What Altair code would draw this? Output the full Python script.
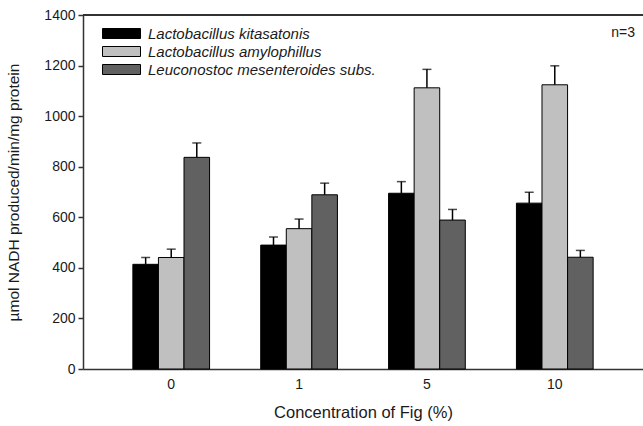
import altair as alt
import pandas as pd

concentrations = ["0", "1", "5", "10"]
species = ["Lactobacillus kitasatonis", "Lactobacillus amylophillus", "Leuconostoc mesenteroides subs."]
kitasatonis = [414, 490, 695, 656]
amylophillus = [441, 555, 1112, 1124]
leuconostoc = [837, 689, 589, 442]
err_kitasatonis = [27, 32, 46, 43]
err_amylophillus = [33, 38, 73, 75]
err_leuconostoc = [57, 46, 42, 27]
colors = ["#000000", "#c0c0c0", "#616161"]

rows = []
for sp, vals, errs in [(species[0], kitasatonis, err_kitasatonis),
                       (species[1], amylophillus, err_amylophillus),
                       (species[2], leuconostoc, err_leuconostoc)]:
    for c, v, e in zip(concentrations, vals, errs):
        rows.append({"conc": c, "species": sp, "value": v, "upper": v + e})
df = pd.DataFrame(rows)

FONT = "Liberation Sans"
TXT = "#1a1a1a"

x_scale = alt.Scale(paddingInner=0.4, paddingOuter=0.39)
x_enc = alt.X("conc:N", sort=concentrations, scale=x_scale,
              axis=alt.Axis(title="Concentration of Fig (%)", labelAngle=0, ticks=False,
                            labelPadding=8, titlePadding=13, labelFontSize=14,
                            titleFontSize=16.5, domainColor="#333333", domainWidth=1.5))
xoff = alt.XOffset("species:N", sort=species, scale=alt.Scale(paddingInner=0, paddingOuter=0))
y_scale = alt.Scale(domain=[0, 1400], nice=False)

bars = alt.Chart(df).mark_bar(stroke="#000000", strokeWidth=1).encode(
    x=x_enc,
    xOffset=xoff,
    y=alt.Y("value:Q", scale=y_scale,
            axis=alt.Axis(title="µmol NADH produced/min/mg protein", values=list(range(0, 1401, 200)),
                          format="d", grid=False, tickSize=5, tickColor="#333333", tickWidth=1.5,
                          domainColor="#333333", domainWidth=1.5, labelFontSize=14,
                          labelPadding=3, titleFontSize=15.5, titleX=-70, titleY=177,
                          titleAngle=-90, titleBaseline="middle", titleAlign="center")),
    color=alt.Color("species:N", sort=species,
                    scale=alt.Scale(domain=species, range=colors),
                    legend=alt.Legend(title=None, orient="none", legendX=31, legendY=11,
                                      symbolType="M-3.8,-1H3.8V1H-3.8Z", symbolSize=100,
                                      symbolStrokeColor="#000000", symbolStrokeWidth=1,
                                      symbolOpacity=1, labelFontStyle="italic",
                                      labelFontSize=15, labelOffset=19, rowPadding=2,
                                      labelLimit=0, labelColor=TXT, labelFont=FONT)),
)

err_line = alt.Chart(df).mark_rule(color="#000000", strokeWidth=1.5).encode(
    x=alt.X("conc:N", sort=concentrations, scale=x_scale), xOffset=xoff,
    y=alt.Y("value:Q", scale=y_scale), y2="upper:Q")

err_cap = alt.Chart(df).mark_tick(color="#000000", thickness=1.5, size=9).encode(
    x=alt.X("conc:N", sort=concentrations, scale=x_scale), xOffset=xoff,
    y=alt.Y("upper:Q", scale=y_scale))

top_line = alt.Chart(df).mark_rule(color="#333333", strokeWidth=1.5).encode(
    y=alt.datum(1400, scale=y_scale))

note = alt.Chart(pd.DataFrame({"t": ["n=3"]})).mark_text(
    align="right", baseline="middle", fontSize=14, font=FONT, color=TXT
).encode(text="t:N", x=alt.value(552), y=alt.value(18))

chart = alt.layer(bars, err_line, err_cap, top_line, note).properties(
    width=560, height=354,
    autosize=alt.AutoSizeParams(type="none"),
    padding={"left": 83, "top": 15, "right": 0, "bottom": 57},
).configure_view(stroke=None).configure_axis(
    labelFont=FONT, titleFont=FONT, labelColor=TXT, titleColor=TXT, titleFontWeight="normal"
)

chart.save("out.html", embed_options={"renderer": "svg", "actions": False})
